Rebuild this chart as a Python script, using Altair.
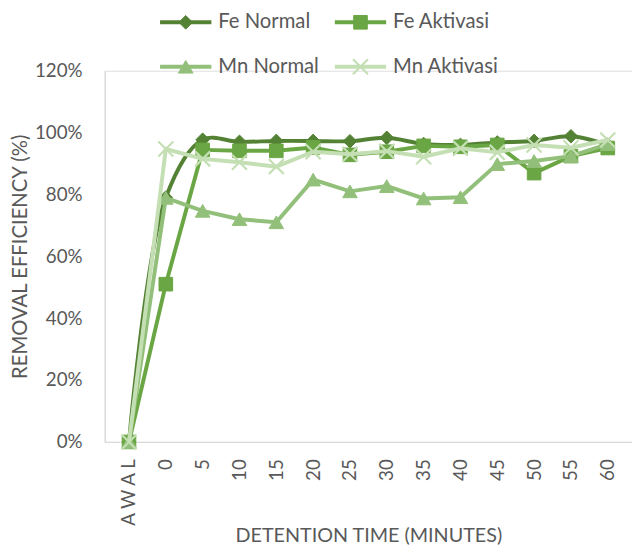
import altair as alt
import pandas as pd

categories = ["AWAL", "0", "5", "10", "15", "20", "25", "30", "35", "40", "45", "50", "55", "60"]
series_names = ["Fe Normal", "Fe Aktivasi", "Mn Normal", "Mn Aktivasi"]
fe_normal = [0, 79.0, 97.7, 97.0, 97.3, 97.3, 97.2, 98.3, 96.3, 96.0, 96.8, 97.3, 98.8, 96.0]
fe_aktivasi = [0, 51.0, 94.4, 94.1, 94.1, 95.2, 92.8, 93.8, 95.7, 95.4, 96.0, 86.9, 92.4, 95.0]
mn_normal = [0, 78.9, 74.7, 72.0, 71.0, 84.8, 81.0, 82.7, 78.7, 79.1, 89.8, 90.8, 92.4, 96.3]
mn_aktivasi = [0, 94.7, 91.5, 90.4, 89.0, 93.8, 93.0, 94.0, 92.2, 94.9, 93.6, 96.0, 95.1, 97.6]

values = [fe_normal, fe_aktivasi, mn_normal, mn_aktivasi]
colors = ["#548235", "#6aa643", "#92c07a", "#c5dfb4"]
shapes = ["diamond", "square", "triangle-up", "M-1,-1L1,1M-1,1L1,-1"]
interp = ["catmull-rom", "linear", "linear", "linear"]
msize = [190, 190, 220, 230]

FONT = "Lato"
GREY = "#595959"

rows = []
for s, vals in zip(series_names, values):
    for c, v in zip(categories, vals):
        rows.append({"series": s, "time": c, "value": v / 100.0})
df = pd.DataFrame(rows)

xenc = alt.X(
    "time:N",
    sort=categories,
    scale=alt.Scale(type="point", padding=0.658),
    axis=alt.Axis(
        title="DETENTION TIME (MINUTES)",
        labelAngle=-90,
        labelPadding=17,
        labelExpr="datum.value == 'AWAL' ? 'A W A L' : datum.value",
        ticks=False,
        grid=False,
        domainColor="#d9d9d9",
        domainWidth=1.3,
        labelColor=GREY,
        labelFont=FONT,
        labelFontSize=19,
        titleColor=GREY,
        titleFont=FONT,
        titleFontSize=20,
        titleFontWeight="normal",
        titleY=101,
        titleBaseline="alphabetic",
    ),
)
yenc = alt.Y(
    "value:Q",
    scale=alt.Scale(domain=[0, 1.2], nice=False),
    axis=alt.Axis(
        title="REMOVAL EFFICIENCY (%)",
        values=[0, 0.2, 0.4, 0.6, 0.8, 1.0, 1.2],
        format=".0%",
        ticks=False,
        grid=False,
        labelPadding=23,
        domainColor="#d9d9d9",
        domainWidth=1.3,
        labelColor=GREY,
        labelFont=FONT,
        labelFontSize=19,
        titleColor=GREY,
        titleFont=FONT,
        titleFontSize=20.5,
        titleFontWeight="normal",
        titleX=-85,
        titleBaseline="middle",
    ),
)

base = alt.Chart(df)
layers = []
for i, s in enumerate(series_names):
    sub = base.transform_filter(alt.datum.series == s)
    line = sub.mark_line(color=colors[i], strokeWidth=4, interpolate=interp[i]).encode(x=xenc, y=yenc)
    pt = sub.mark_point(
        shape=shapes[i], size=msize[i], filled=True, fill=colors[i], stroke=colors[i],
        strokeWidth=2.2 if i == 3 else 1, opacity=1,
    ).encode(x=xenc, y=yenc)
    layers += [line, pt]

# manual legend (two columns, two rows above the plot)
leg_rows = []
for i, s in enumerate(series_names):
    col, row = i % 2, i // 2
    x0 = 56 + col * 177
    y0 = -49 + row * 45
    leg_rows.append({"series": s, "x1": x0, "x2": x0 + 52, "xm": x0 + 26, "xt": x0 + 59, "y": y0})
leg = pd.DataFrame(leg_rows)
lbase = alt.Chart(leg)
for i, s in enumerate(series_names):
    lsub = lbase.transform_filter(alt.datum.series == s)
    layers.append(lsub.mark_rule(color=colors[i], strokeWidth=4).encode(
        x=alt.X("x1:Q", scale=None), x2="x2:Q", y=alt.Y("y:Q", scale=None)))
    layers.append(lsub.mark_point(
        shape=shapes[i], size=msize[i], filled=True, fill=colors[i], stroke=colors[i],
        strokeWidth=2.2 if i == 3 else 1, opacity=1,
    ).encode(x=alt.X("xm:Q", scale=None), y=alt.Y("y:Q", scale=None)))
layers.append(lbase.mark_text(align="left", baseline="middle", font=FONT, fontSize=20.5, color=GREY).encode(
    x=alt.X("xt:Q", scale=None), y=alt.Y("y:Q", scale=None), text="series:N"))

chart = alt.layer(*layers).properties(
    width=534,
    height=376,
    autosize=alt.AutoSizeParams(type="none"),
    padding={"left": 98, "top": 60, "right": 0, "bottom": 111},
).configure_view(stroke=None).configure(background="white")

chart.save("out.html", embed_options={"renderer": "svg", "actions": False})
